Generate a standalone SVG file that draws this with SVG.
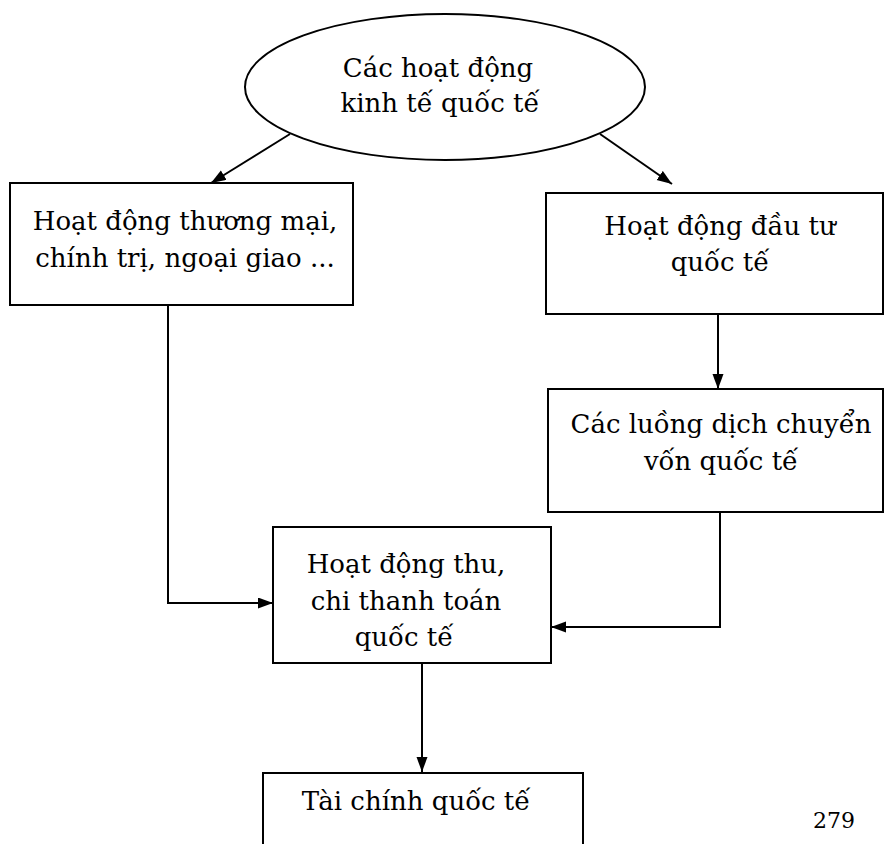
<svg xmlns="http://www.w3.org/2000/svg" width="885" height="844" viewBox="0 0 885 844">
  <style>
    .shape { fill: #ffffff; stroke: #000000; stroke-width: 2; }
    .open { fill: none; stroke: #000000; stroke-width: 2; }
    .conn { fill: none; stroke: #000000; stroke-width: 2; }
    text { font-family: "DejaVu Serif", "Liberation Serif", serif; font-size: 26px; fill: #000000; text-anchor: middle; }
    .page { font-size: 22px; }
  </style>
  <defs>
    <marker id="arrow" markerUnits="userSpaceOnUse" markerWidth="16" markerHeight="12" refX="15" refY="5.5" orient="auto">
      <path d="M0,0 L15,5.5 L0,11 z" fill="#000000"/>
    </marker>
  </defs>
  <rect width="885" height="844" fill="#ffffff"/>

  <g id="connectors">
    <line class="conn" x1="290" y1="134" x2="211" y2="183" marker-end="url(#arrow)"/>
    <line class="conn" x1="600" y1="134" x2="672" y2="184" marker-end="url(#arrow)"/>
    <line class="conn" x1="718" y1="314" x2="718" y2="389" marker-end="url(#arrow)"/>
    <polyline class="conn" points="168,305 168,603 273,603" marker-end="url(#arrow)"/>
    <polyline class="conn" points="720,512 720,627 551,627" marker-end="url(#arrow)"/>
    <line class="conn" x1="422" y1="663" x2="422" y2="772" marker-end="url(#arrow)"/>
  </g>

  <g id="n-kinhte">
    <ellipse class="shape" cx="445" cy="87" rx="200" ry="73"/>
    <text x="438" y="77">Các hoạt động</text>
    <text x="440" y="112">kinh tế quốc tế</text>
  </g>

  <g id="n-thuongmai">
    <rect class="shape" x="10" y="183" width="343" height="122"/>
    <text x="185" y="230">Hoạt động thương mại,</text>
    <text x="185" y="267">chính trị, ngoại giao ...</text>
  </g>

  <g id="n-dautu">
    <rect class="shape" x="546" y="193" width="337" height="121"/>
    <text x="720" y="235">Hoạt động đầu tư</text>
    <text x="720" y="271">quốc tế</text>
  </g>

  <g id="n-luongvon">
    <rect class="shape" x="548" y="389" width="335" height="123"/>
    <text x="721" y="433">Các luồng dịch chuyển</text>
    <text x="721" y="470">vốn quốc tế</text>
  </g>

  <g id="n-thuchi">
    <rect class="shape" x="273" y="527" width="278" height="136"/>
    <text x="406" y="573">Hoạt động thu,</text>
    <text x="406" y="610">chi thanh toán</text>
    <text x="404" y="646">quốc tế</text>
  </g>

  <g id="n-taichinh">
    <path class="open" d="M263,850 L263,773 L583,773 L583,850"/>
    <text x="416" y="810">Tài chính quốc tế</text>
  </g>

  <text class="page" x="834" y="828">279</text>
</svg>
